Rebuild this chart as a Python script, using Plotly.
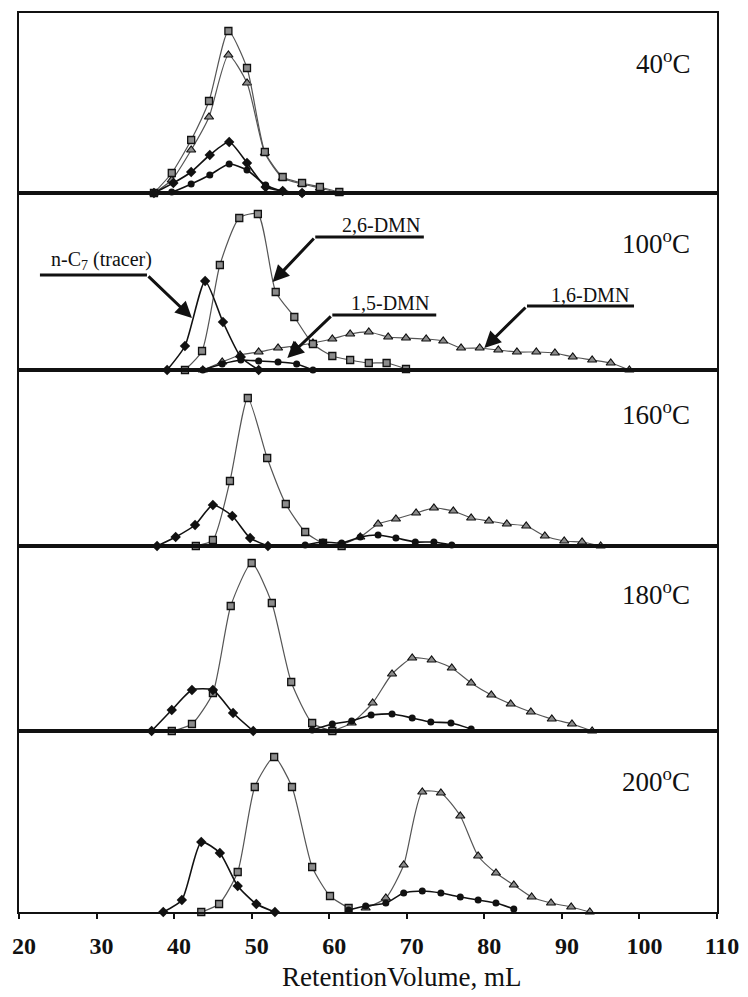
import plotly.graph_objects as go

# ---------------- data (retention volume in mL, signal in arbitrary units) ----------------
panel_labels = ["40", "100", "160", "180", "200"]
x_ticks = [20, 30, 40, 50, 60, 70, 80, 90, 100, 110]

# 40 C
t40_tracer_x = [37.4, 39.9, 42.2, 44.6, 47.1, 49.4, 51.8, 54.0, 56.5]
t40_tracer_y = [0, 10, 21, 38, 51, 30, 6, 2, 0]
t40_26_x = [37.4, 39.7, 42.2, 44.5, 47.0, 49.4, 51.7, 54.0, 56.5, 58.8, 61.3]
t40_26_y = [0, 20, 53, 92, 162, 125, 41, 16, 10, 6, 1]
t40_15_x = [37.4, 39.7, 42.2, 44.6, 47.1, 49.4, 51.8, 54.0, 56.5]
t40_15_y = [0, 1, 9, 18, 29, 23, 8, 2, 0]
t40_16_x = [37.4, 39.7, 42.2, 44.5, 47.0, 49.4, 51.7, 54.0, 56.5, 58.8, 61.3]
t40_16_y = [0, 13, 43, 76, 138, 110, 40, 15, 9, 5, 0]

# 100 C
t100_tracer_x = [39.1, 41.4, 44.0, 46.3, 48.6, 50.9]
t100_tracer_y = [0, 24, 89, 48, 13, 0]
t100_26_x = [41.4, 43.6, 45.9, 48.4, 50.8, 53.1, 55.5, 57.9, 60.4, 62.7, 65.1, 67.4, 69.9]
t100_26_y = [0, 19, 105, 152, 156, 78, 53, 26, 14, 10, 7, 7, 1]
t100_15_x = [43.7, 46.2, 48.6, 50.9, 53.4, 55.8, 57.9]
t100_15_y = [0, 6, 10, 9, 8, 6, 0]
t100_16_x = [43.7, 46.2, 48.5, 50.9, 53.4, 55.6, 57.9, 60.4, 62.7, 65.1, 67.6, 69.9,
             72.5, 74.7, 77.0, 79.4, 81.8, 84.2, 86.7, 89.1, 91.4, 93.9, 96.3, 98.7]
t100_16_y = [0, 8, 15, 18, 22, 24, 27, 31, 36, 38, 33, 32,
             31, 29, 22, 22, 20, 18, 18, 17, 13, 10, 7, 0]

# 160 C
t160_tracer_x = [37.8, 40.2, 42.7, 45.0, 47.5, 49.8, 52.1]
t160_tracer_y = [0, 9, 21, 41, 30, 8, 0]
t160_26_x = [42.8, 45.0, 47.2, 49.5, 52.0, 54.4, 56.9, 59.2, 61.6]
t160_26_y = [0, 6, 65, 148, 88, 42, 14, 3, 0]
t160_15_x = [56.9, 59.2, 61.6, 64.0, 66.3, 68.6, 71.1, 73.5, 75.8]
t160_15_y = [1, 4, 3, 9, 11, 8, 4, 4, 1]
t160_16_x = [61.5, 64.0, 66.3, 68.6, 71.2, 73.5, 76.0, 78.3, 80.6, 82.9, 85.4, 87.8, 90.3, 92.6, 95.0]
t160_16_y = [1, 9, 22, 27, 33, 38, 35, 28, 25, 22, 20, 10, 5, 4, 0]

# 180 C
t180_tracer_x = [37.1, 39.7, 42.3, 45.0, 47.6, 50.2]
t180_tracer_y = [0, 21, 41, 41, 18, 0]
t180_26_x = [39.7, 42.3, 45.0, 47.3, 50.0, 52.6, 55.1, 57.8, 60.4]
t180_26_y = [0, 7, 38, 125, 168, 128, 49, 8, 0]
t180_15_x = [57.8, 60.4, 62.9, 65.4, 68.1, 70.7, 73.1, 75.7, 78.3]
t180_15_y = [1, 7, 10, 16, 17, 13, 9, 8, 2]
t180_16_x = [60.4, 62.9, 65.6, 68.1, 70.7, 73.2, 75.8, 78.3, 80.9, 83.4, 86.0, 88.7, 91.3, 93.9]
t180_16_y = [0, 8, 28, 57, 73, 71, 63, 48, 36, 27, 19, 12, 7, 0]

# 200 C
t200_tracer_x = [38.6, 41.0, 43.5, 45.9, 48.2, 50.6, 53.0]
t200_tracer_y = [0, 12, 70, 59, 26, 8, 0]
t200_26_x = [43.5, 45.8, 48.2, 50.4, 52.9, 55.2, 57.8, 60.1, 62.5]
t200_26_y = [0, 8, 40, 125, 155, 125, 45, 16, 4]
t200_15_x = [62.5, 64.7, 67.3, 69.6, 72.0, 74.4, 76.9, 79.2, 81.5, 83.8]
t200_15_y = [2, 6, 9, 19, 21, 19, 15, 12, 9, 3]
t200_16_x = [64.7, 67.3, 69.6, 72.0, 74.4, 76.9, 79.2, 81.5, 83.8, 86.1, 88.6, 91.2, 93.6]
t200_16_y = [4, 14, 47, 120, 119, 96, 56, 39, 27, 15, 9, 5, 0]

panels = [
    (t40_tracer_x, t40_tracer_y, t40_26_x, t40_26_y, t40_15_x, t40_15_y, t40_16_x, t40_16_y),
    (t100_tracer_x, t100_tracer_y, t100_26_x, t100_26_y, t100_15_x, t100_15_y, t100_16_x, t100_16_y),
    (t160_tracer_x, t160_tracer_y, t160_26_x, t160_26_y, t160_15_x, t160_15_y, t160_16_x, t160_16_y),
    (t180_tracer_x, t180_tracer_y, t180_26_x, t180_26_y, t180_15_x, t180_15_y, t180_16_x, t180_16_y),
    (t200_tracer_x, t200_tracer_y, t200_26_x, t200_26_y, t200_15_x, t200_15_y, t200_16_x, t200_16_y),
]

# ---------------- layout geometry ----------------
# the page body adds an 8 px margin, so the figure is placed 8 px in from the window corner
OFF = 8
W, H = 740, 989
ml, mt = 19 - OFF, 13 - OFF
plot_w = 717 - 19
plot_h = 912 - 13
mr = W - ml - plot_w
mb = H - mt - plot_h
edges_px = [13, 193, 370, 546, 731, 912]
y_tops = [180, 177, 176, 185, 181]
label_y = [131, 128, 133, 138, 132]

SERIF = "Liberation Serif"

fig = go.Figure()

for i, (tx, ty, sx, sy, cx, cy, trx, try_) in enumerate(panels):
    n = i + 1
    xa = "x" if n == 1 else f"x{n}"
    ya = "y" if n == 1 else f"y{n}"
    common = dict(xaxis=xa, yaxis=ya, showlegend=False, cliponaxis=False, hoverinfo="x+y")
    # 1,6-DMN (triangles)
    fig.add_trace(go.Scatter(x=trx, y=try_, mode="lines+markers",
                             line=dict(color="#555555", width=1.2, shape="spline", smoothing=0.6),
                             marker=dict(symbol="triangle-up", size=8, color="#8c8c8c",
                                         line=dict(color="#111", width=1.2)),
                             name="1,6-DMN", **common))
    # 2,6-DMN (squares)
    fig.add_trace(go.Scatter(x=sx, y=sy, mode="lines+markers",
                             line=dict(color="#555555", width=1.2, shape="spline", smoothing=0.6),
                             marker=dict(symbol="square", size=7, color="#8c8c8c",
                                         line=dict(color="#111", width=1.3)),
                             name="2,6-DMN", **common))
    # 1,5-DMN (circles)
    fig.add_trace(go.Scatter(x=cx, y=cy, mode="lines+markers",
                             line=dict(color="#111", width=1.6, shape="spline", smoothing=0.6),
                             marker=dict(symbol="circle", size=7, color="#111"),
                             name="1,5-DMN", **common))
    # tracer (diamonds)
    fig.add_trace(go.Scatter(x=tx, y=ty, mode="lines+markers",
                             line=dict(color="#111", width=1.6, shape="spline", smoothing=0.6),
                             marker=dict(symbol="diamond", size=8, color="#111"),
                             name="n-C7 (tracer)", **common))

    top_px, bot_px = edges_px[i], edges_px[i + 1]
    dom = [max(0, (912 - bot_px) / plot_h), min(1, (912 - top_px) / plot_h)]
    last = (n == 5)
    fig.layout[("xaxis" if n == 1 else f"xaxis{n}")] = dict(
        domain=[0, 1], anchor=ya, range=[20, 110], automargin=False,
        tickvals=x_ticks if last else [], showticklabels=last,
        ticks="outside" if last else "", ticklen=5, tickwidth=1.5, tickcolor="#111",
        ticklabelshift=5, ticklabelstandoff=6,
        showline=True, linecolor="#111", linewidth=2, mirror=True,
        showgrid=False, zeroline=False,
        tickfont=dict(family=SERIF, size=24, color="#111", weight="bold"),
    )
    fig.layout[("yaxis" if n == 1 else f"yaxis{n}")] = dict(
        domain=dom, anchor=xa, range=[0, y_tops[i]], automargin=False,
        showticklabels=False, ticks="", showgrid=False, zeroline=False,
        showline=True, linecolor="#111", linewidth=2, mirror=True,
    )
    fig.add_annotation(xref=xa, yref=ya, x=106.8, y=label_y[i],
                       text=f"{panel_labels[i]}<sup>o</sup>C", showarrow=False,
                       xanchor="right", yanchor="middle",
                       font=dict(family=SERIF, size=27, color="#111"))

# ---------------- leader labels in the 100 C panel ----------------
leaders = [
    # text, text x, text y, underline x0, x1, y, arrow tip x, tip y
    ("n-C<sub>7</sub> (tracer)", 30.7, 110, 22.7, 36.5, 95, 42.3, 52),
    ("2,6-DMN", 66.7, 145, 58.2, 72.2, 133, 52.7, 88),
    ("1,5-DMN", 67.8, 67, 60.4, 73.8, 55, 54.6, 12),
    ("1,6-DMN", 93.6, 75, 85.5, 99.3, 64, 80.0, 22),
]
for text, tx_, ty_, ux0, ux1, uy, ax_, ay_ in leaders:
    fig.add_annotation(xref="x2", yref="y2", x=tx_, y=ty_, text=text, showarrow=False,
                       xanchor="center", yanchor="middle",
                       font=dict(family=SERIF, size=20, color="#111"))
    fig.add_shape(type="line", xref="x2", yref="y2", x0=ux0, x1=ux1, y0=uy, y1=uy,
                  line=dict(color="#111", width=3))
    fig.add_annotation(xref="x2", yref="y2", axref="x2", ayref="y2",
                       x=ax_, y=ay_, ax=ux0 if ux0 > 40 else ux1, ay=uy,
                       text="", showarrow=True, arrowhead=2, arrowsize=1.1,
                       arrowwidth=3, arrowcolor="#111", standoff=0)

fig.add_annotation(xref="paper", yref="paper", x=(401 - 19) / plot_w, y=(912 - 977) / plot_h,
                   text="RetentionVolume, mL", showarrow=False, xanchor="center", yanchor="middle",
                   font=dict(family=SERIF, size=27, color="#111"))

fig.update_layout(
    width=W, height=H,
    margin=dict(l=ml, r=mr, t=mt, b=mb, autoexpand=False),
    paper_bgcolor="white", plot_bgcolor="white",
    showlegend=False,
)

fig.write_html("out.html")
